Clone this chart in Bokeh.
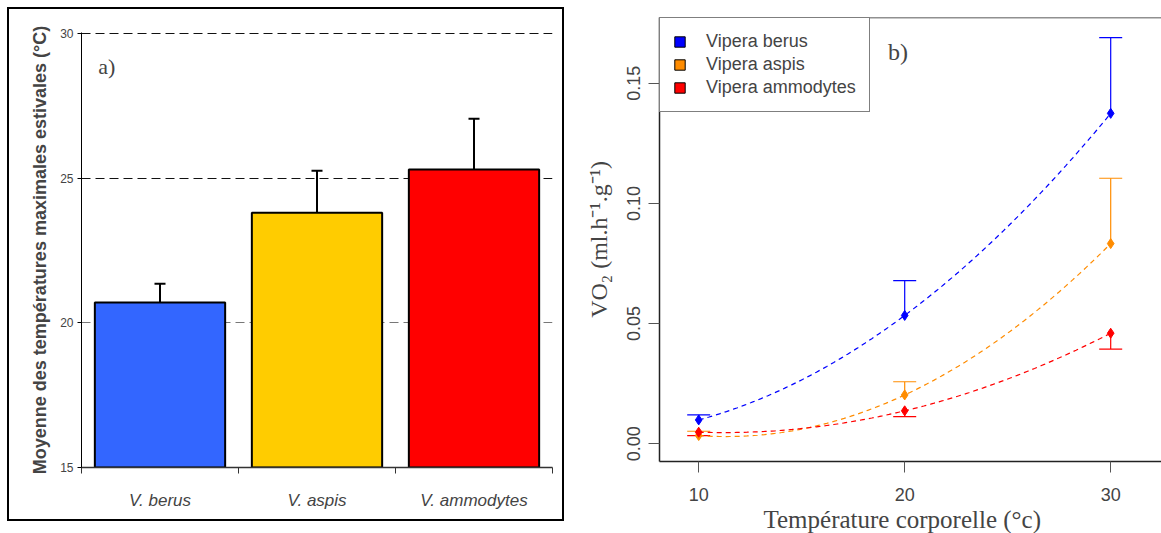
import numpy as np
from bokeh.plotting import figure
from bokeh.layouts import row
from bokeh.models import (Range1d, FixedTicker, Whisker, TeeHead, ColumnDataSource,
                          Legend, LegendItem, Label, Span, Grid, NumeralTickFormatter, Title)
from bokeh.embed import file_html
from bokeh.resources import INLINE

# ---------------- panel a data ----------------
species_a = ["V. berus", "V. aspis", "V. ammodytes"]
tmax_mean = [20.70, 23.80, 25.30]
tmax_upper = [21.35, 25.25, 27.05]
bar_colors = ["#3366FF", "#FFCC00", "#FF0000"]
ticks_a = [15, 20, 25, 30]

# ---------------- panel b data ----------------
temps = [10, 20, 30]
species_b = ["Vipera berus", "Vipera aspis", "Vipera ammodytes"]
vo2_berus = [0.0099, 0.0534, 0.1375]
vo2_aspis = [0.0034, 0.0203, 0.0833]
vo2_ammodytes = [0.0048, 0.0137, 0.0460]
err_berus = [0.0120, 0.0679, 0.1690]
err_aspis = [0.0052, 0.0258, 0.1105]
err_ammodytes = [0.0034, 0.0113, 0.0394]
line_colors = ["#0000FF", "#FF8C00", "#FF0000"]
ticks_bx = [10, 20, 30]
ticks_by = [0.00, 0.05, 0.10, 0.15]

SANS = "Liberation Sans"
SERIF = "Liberation Serif"

# ================= panel a =================
pa = figure(width=553, height=510, x_range=Range1d(0, 3), y_range=Range1d(15, 30.03),
            output_backend="svg", toolbar_location=None, title=None,
            min_border_left=72, min_border_right=10, min_border_top=23, min_border_bottom=52)
pa.outline_line_color = None
pa.xgrid.visible = False
pa.ygrid.ticker = FixedTicker(ticks=[25, 30])
pa.ygrid.grid_line_color = "#111111"
pa.ygrid.grid_line_dash = "9 5"
g20 = Grid(dimension=1, ticker=FixedTicker(ticks=[20]), grid_line_color="#777777",
           grid_line_dash="9 5")
pa.add_layout(g20)

xpos = [i + 0.5 for i in range(len(species_a))]
src_a = ColumnDataSource(dict(x=xpos, top=tmax_mean, upper=tmax_upper, color=bar_colors))
pa.vbar(x="x", top="top", bottom=15, width=0.83, fill_color="color", line_color="black",
        line_width=2, source=src_a)
wa = Whisker(source=src_a, base="x", lower="top", upper="upper", line_color="black",
             line_width=2, upper_head=TeeHead(size=11, line_color="black", line_width=2),
             lower_head=None, level="overlay")
pa.add_layout(wa)

pa.yaxis.ticker = FixedTicker(ticks=ticks_a)
pa.yaxis.axis_label = "Moyenne des températures maximales estivales (°C)"
pa.yaxis.axis_label_text_font = SANS
pa.yaxis.axis_label_text_font_style = "bold"
pa.yaxis.axis_label_text_font_size = "18px"
pa.yaxis.axis_label_standoff = 7
pa.yaxis.major_label_text_font = SANS
pa.yaxis.major_label_text_font_size = "12px"
pa.yaxis.major_label_standoff = 4
pa.yaxis.major_tick_out = 4
pa.yaxis.major_tick_in = 0
pa.yaxis.minor_tick_line_color = None
pa.yaxis.axis_line_color = "black"

pa.xaxis.ticker = FixedTicker(ticks=xpos, minor_ticks=list(range(len(species_a) + 1)))
pa.xaxis.major_label_overrides = {x: s for x, s in zip(xpos, species_a)}
pa.xaxis.major_tick_line_color = None
pa.xaxis.major_tick_out = 0
pa.xaxis.major_tick_in = 0
pa.xaxis.minor_tick_out = 6
pa.xaxis.minor_tick_in = 0
pa.xaxis.minor_tick_line_color = "#333333"
pa.xaxis.axis_line_color = "#333333"
pa.xaxis.axis_line_width = 1.5
pa.xaxis.major_label_text_font = SANS
pa.xaxis.major_label_text_font_style = "italic"
pa.xaxis.major_label_text_font_size = "17px"
pa.xaxis.major_label_standoff = 17

pa.add_layout(Label(x=0.106, y=28.84, text="a)", text_font=SERIF, text_font_size="22px",
                    text_baseline="middle", text_align="left"))

# ================= panel b =================
pb = figure(width=597, height=533, x_range=Range1d(8.097, 32.466),
            y_range=Range1d(-0.0074, 0.1774),
            output_backend="svg", toolbar_location=None, title=None,
            min_border_left=95, min_border_right=0, min_border_top=17, min_border_bottom=72)
pb.outline_line_color = None
pb.grid.visible = False
pb.add_layout(Span(location=0.1774, dimension="width", line_color="#222222", line_width=1.5))

series = [vo2_berus, vo2_aspis, vo2_ammodytes]
errs = [err_berus, err_aspis, err_ammodytes]
xs = np.linspace(temps[0], temps[-1], 120)
for vals, col in zip(series, line_colors):
    coef = np.polyfit(temps, vals, 2)
    pb.line(xs, np.polyval(coef, xs), line_color=col, line_dash="5 4", line_width=1.2)

legend_items = []
for vals, err, col, name in zip(series, errs, line_colors, species_b):
    lo = [min(a, b) for a, b in zip(vals, err)]
    hi = [max(a, b) for a, b in zip(vals, err)]
    s = ColumnDataSource(dict(x=temps, y=vals, lo=lo, hi=hi))
    upper_head = TeeHead(size=23, line_color=col, line_width=1.2) if err[0] >= vals[0] else None
    lower_head = TeeHead(size=23, line_color=col, line_width=1.2) if err[0] < vals[0] else None
    pb.add_layout(Whisker(source=s, base="x", lower="lo", upper="hi", line_color=col,
                          line_width=1.2, upper_head=upper_head, lower_head=lower_head))
    pb.scatter(x="x", y="y", source=s, marker="diamond", size=10, fill_color=col,
               line_color=col)
    r = pb.quad(left="x", right="x", top="y", bottom="y", source=s, fill_color=col,
                line_color="black", line_width=1, visible=False)
    legend_items.append(LegendItem(label=name, renderers=[r]))

legend = Legend(items=legend_items, location="top_left", margin=0, padding=13,
                spacing=2, glyph_width=13, glyph_height=13, label_height=20,
                label_standoff=20, label_text_font=SANS, label_text_font_size="18px",
                border_line_color="black", border_line_width=1, background_fill_alpha=1)
pb.add_layout(legend)

pb.xaxis.ticker = FixedTicker(ticks=ticks_bx)
pb.xaxis.major_tick_out = 11
pb.xaxis.major_tick_in = 0
pb.xaxis.minor_tick_line_color = None
pb.xaxis.major_tick_line_color = "#555555"
pb.xaxis.axis_line_color = "#222222"
pb.xaxis.axis_line_width = 1.5
pb.xaxis.major_label_text_font = SANS
pb.xaxis.major_label_text_font_size = "18px"
pb.xaxis.major_label_standoff = 15

pb.yaxis.ticker = FixedTicker(ticks=ticks_by)
pb.yaxis.formatter = NumeralTickFormatter(format="0.00")
pb.yaxis.major_label_orientation = "vertical"
pb.yaxis.major_tick_out = 11
pb.yaxis.major_tick_in = 0
pb.yaxis.minor_tick_line_color = None
pb.yaxis.major_tick_line_color = "#555555"
pb.yaxis.axis_line_color = "#222222"
pb.yaxis.axis_line_width = 1.5
pb.yaxis.major_label_text_font = SANS
pb.yaxis.major_label_text_font_size = "18px"
pb.yaxis.major_label_standoff = 8
pb.yaxis.axis_label = "VO₂ (ml.h⁻¹.g⁻¹)"
pb.yaxis.axis_label_text_font = SERIF
pb.yaxis.axis_label_text_font_style = "normal"
pb.yaxis.axis_label_text_font_size = "24px"
pb.yaxis.axis_label_standoff = 13

pb.add_layout(Title(text="Température corporelle (°c)", text_font=SERIF,
                    text_font_size="25px", text_font_style="normal", align="left",
                    offset=104, standoff=0), "below")
pb.add_layout(Label(x=19.19, y=0.1632, text="b)", text_font=SERIF, text_font_size="24px",
                    text_align="left", text_baseline="middle"))

box_a = row(pa, margin=(7, 0, 0, 7), styles={"border": "2px solid black"})
layout = row(box_a, pb)
open("out.html", "w").write(file_html(layout, INLINE))
